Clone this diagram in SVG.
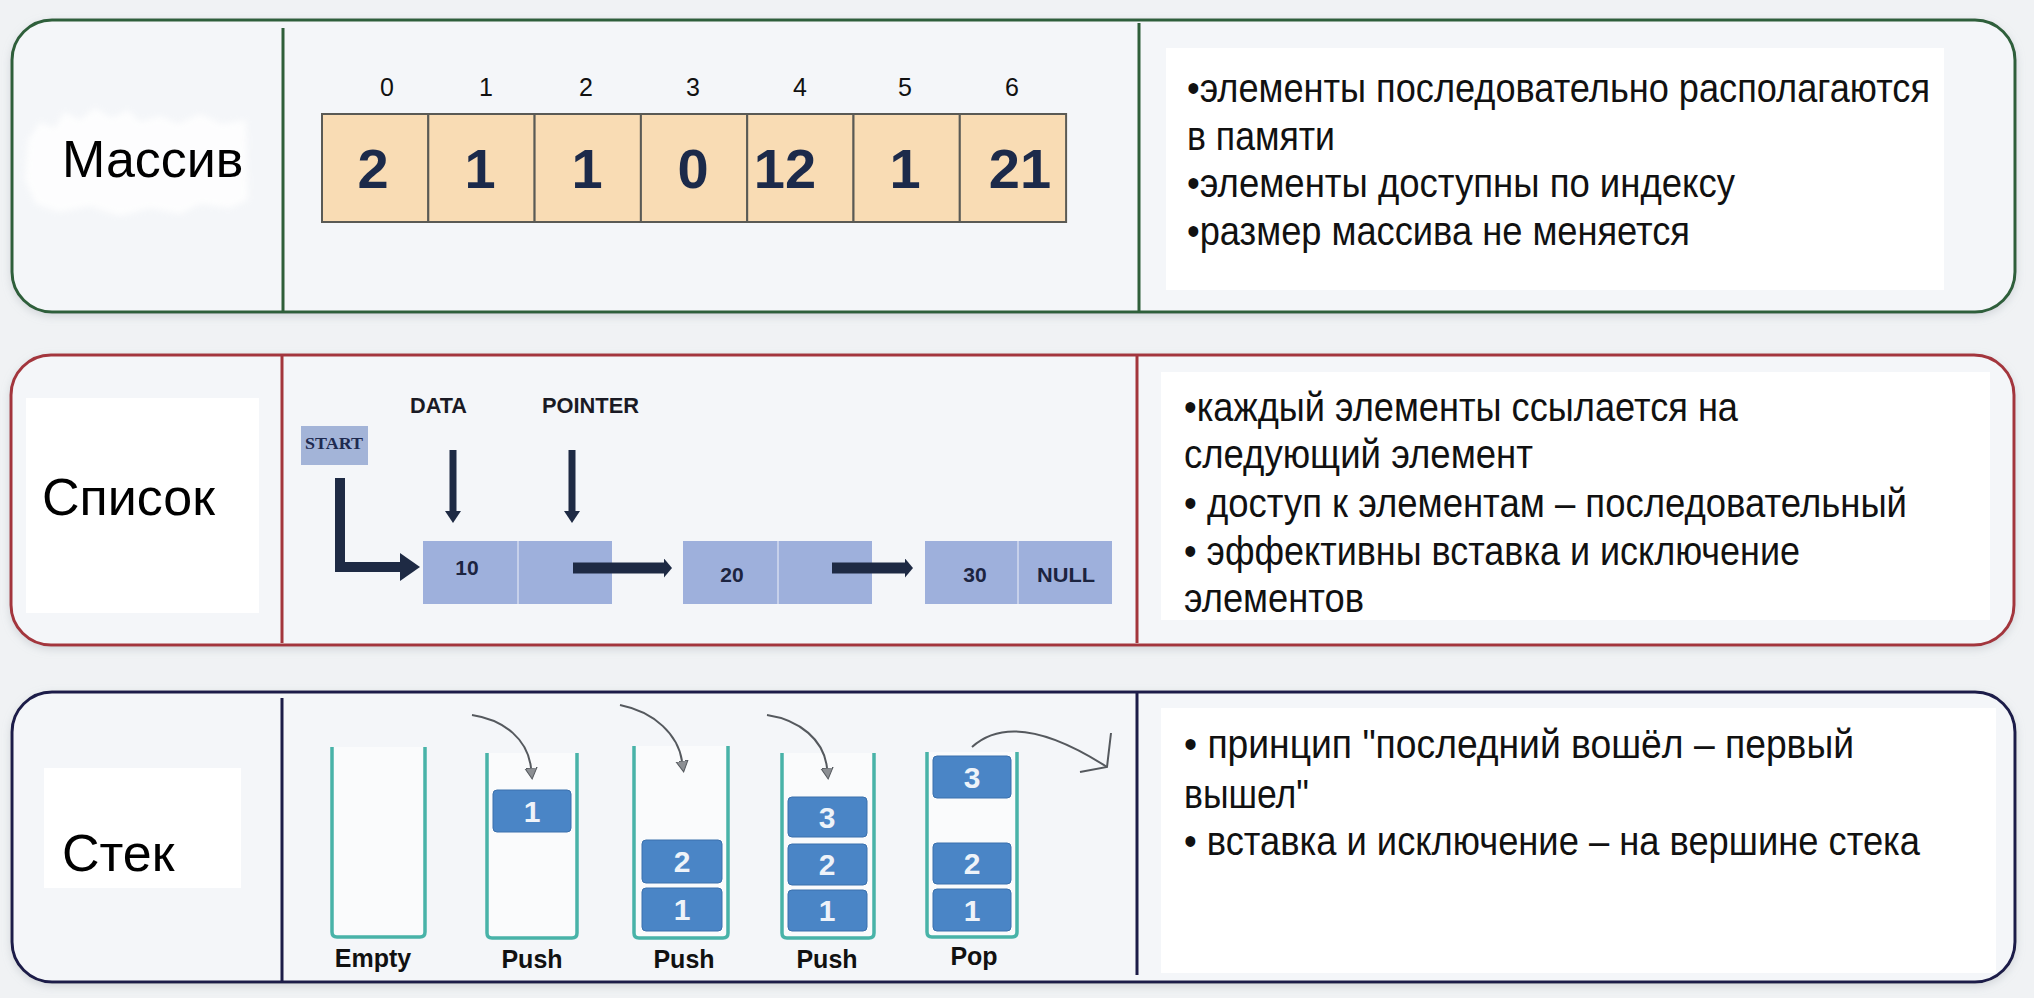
<svg xmlns="http://www.w3.org/2000/svg" width="2034" height="998" viewBox="0 0 2034 998">
<defs>
  <filter id="sh" x="-5%" y="-10%" width="110%" height="125%">
    <feDropShadow dx="0" dy="3" stdDeviation="4" flood-color="#9aa2ab" flood-opacity="0.35"/>
  </filter>
  <filter id="soft" x="-10%" y="-20%" width="120%" height="140%">
    <feGaussianBlur stdDeviation="3"/>
  </filter>
  <marker id="hBig" viewBox="0 0 20 28" refX="0" refY="14" markerWidth="20" markerHeight="28" markerUnits="userSpaceOnUse" orient="auto">
    <path d="M0,0 L20,14 L0,28 Z" fill="#1e2a44"/>
  </marker>
  <marker id="hDown" viewBox="0 0 12 16" refX="0" refY="8" markerWidth="12" markerHeight="16" markerUnits="userSpaceOnUse" orient="auto">
    <path d="M0,0 L12,8 L0,16 Z" fill="#1e2a44"/>
  </marker>
  <marker id="hNode" viewBox="0 0 8 19" refX="0" refY="9.5" markerWidth="8" markerHeight="19" markerUnits="userSpaceOnUse" orient="auto">
    <path d="M0,0 L8,9.5 L0,19 Z" fill="#1e2a44"/>
  </marker>
  <marker id="hPush" viewBox="0 0 12 14" refX="0" refY="7" markerWidth="12" markerHeight="14" markerUnits="userSpaceOnUse" orient="auto">
    <path d="M0,1 L11,7 L0,13 Z" fill="#8c8f93" stroke="#55595e" stroke-width="1"/>
  </marker>
</defs>
<style>
  .panel { stroke-width: 3; fill: #f4f6f9; }
  .div { stroke-width: 3; fill: none; }
  .wbox { fill: #ffffff; }
  .title { font-family: "Liberation Sans", Arial, sans-serif; font-size: 52px; fill: #000; }
  .bul { font-family: "Liberation Sans", Arial, sans-serif; font-size: 40px; fill: #111; }
  .idx { font-family: "Liberation Sans", Arial, sans-serif; font-size: 25px; fill: #111; text-anchor: middle; }
  .cell { fill: #f9dcb4; stroke: #5a5a55; stroke-width: 2; }
  .cnum { font-family: "Liberation Sans", Arial, sans-serif; font-weight: bold; font-size: 56px; fill: #1c2a4a; text-anchor: middle; }
  .lnode { fill: #9eb0dc; }
  .lsep { stroke: #c6d0ea; stroke-width: 2; }
  .ltxt { font-family: "Liberation Sans", Arial, sans-serif; font-weight: bold; font-size: 21px; fill: #1c2440; text-anchor: middle; }
  .llab { font-family: "Liberation Sans", Arial, sans-serif; font-weight: bold; font-size: 22px; fill: #1a1a24; }
  .conn { stroke: #1e2a44; fill: none; }
  .stack { stroke: #48b3a8; stroke-width: 3.5; fill: #fafbfc; }
  .blk { fill: #4a85c6; stroke: #3a70ad; stroke-width: 1; }
  .btxt { font-family: "Liberation Sans", Arial, sans-serif; font-weight: bold; font-size: 30px; fill: #eef3f9; text-anchor: middle; }
  .slab { font-family: "Liberation Sans", Arial, sans-serif; font-weight: bold; font-size: 25px; fill: #111; text-anchor: middle; }
  .parr { stroke: #55595e; stroke-width: 2; fill: none; }
</style>

<rect width="2034" height="998" fill="#f0f2f4"/>

<!-- Panel 1: Массив -->
<g id="panel-array">
  <rect class="panel" x="12" y="20" width="2003" height="292" rx="40" ry="40" stroke="#2f5f3a" filter="url(#sh)"/>
  <line class="div" x1="283" y1="28" x2="283" y2="311" stroke="#2f5f3a"/>
  <line class="div" x1="1139" y1="23" x2="1139" y2="311" stroke="#2f5f3a"/>
  <path d="M28,140 L40,122 L55,128 L64,112 L80,120 L95,108 L112,118 L128,110 L140,122 L160,116 L178,124 L200,114 L222,124 L246,120 L248,200 L230,208 L200,204 L180,214 L150,208 L120,216 L90,206 L60,212 L36,204 L25,180 Z" fill="#ffffff" opacity="0.85" filter="url(#soft)"/>
  <text class="title" x="62" y="177">Массив</text>
</g>

<g id="array">
  <rect class="cell" x="322" y="114" width="106.3" height="108"/>
  <rect class="cell" x="428.3" y="114" width="106.3" height="108"/>
  <rect class="cell" x="534.6" y="114" width="106.3" height="108"/>
  <rect class="cell" x="640.9" y="114" width="106.3" height="108"/>
  <rect class="cell" x="747.2" y="114" width="106.3" height="108"/>
  <rect class="cell" x="853.5" y="114" width="106.3" height="108"/>
  <rect class="cell" x="959.8" y="114" width="106.3" height="108"/>
  <text class="cnum" x="373" y="188">2</text>
  <text class="cnum" x="480" y="188">1</text>
  <text class="cnum" x="587" y="188">1</text>
  <text class="cnum" x="693" y="188">0</text>
  <text class="cnum" x="785" y="188">12</text>
  <text class="cnum" x="905" y="188">1</text>
  <text class="cnum" x="1020" y="188">21</text>
  <text class="idx" x="387" y="96">0</text>
  <text class="idx" x="486" y="96">1</text>
  <text class="idx" x="586" y="96">2</text>
  <text class="idx" x="693" y="96">3</text>
  <text class="idx" x="800" y="96">4</text>
  <text class="idx" x="905" y="96">5</text>
  <text class="idx" x="1012" y="96">6</text>
</g>

<g id="array-notes">
  <rect class="wbox" x="1166" y="48" width="778" height="242"/>
  <text class="bul" x="1187" y="102" textLength="743" lengthAdjust="spacingAndGlyphs">•элементы последовательно располагаются</text>
  <text class="bul" x="1187" y="150" textLength="148" lengthAdjust="spacingAndGlyphs">в памяти</text>
  <text class="bul" x="1187" y="197" textLength="548" lengthAdjust="spacingAndGlyphs">•элементы доступны по индексу</text>
  <text class="bul" x="1187" y="245" textLength="503" lengthAdjust="spacingAndGlyphs">•размер массива не меняется</text>
</g>

<!-- Panel 2: Список -->
<g id="panel-list">
  <rect class="panel" x="11" y="355" width="2003" height="290" rx="40" ry="40" stroke="#a3363c" filter="url(#sh)"/>
  <line class="div" x1="282" y1="356" x2="282" y2="643" stroke="#a3363c"/>
  <line class="div" x1="1137" y1="356" x2="1137" y2="643" stroke="#a3363c"/>
  <rect class="wbox" x="26" y="398" width="233" height="215"/>
  <text class="title" x="42" y="515">Список</text>
</g>

<g id="list-start">
  <rect x="301" y="426" width="67" height="39" fill="#a3b4d8"/>
  <text x="334" y="449" font-family="'Liberation Serif', serif" font-weight="bold" font-size="17" fill="#1e2a50" text-anchor="middle" textLength="58" lengthAdjust="spacingAndGlyphs">START</text>
</g>
<g id="list-labels">
  <text class="llab" x="410" y="413" textLength="57" lengthAdjust="spacingAndGlyphs">DATA</text>
  <text class="llab" x="542" y="413" textLength="97" lengthAdjust="spacingAndGlyphs">POINTER</text>
</g>
<g id="node-10">
  <rect class="lnode" x="423" y="541" width="189" height="63"/>
  <line class="lsep" x1="518" y1="541" x2="518" y2="604"/>
  <text class="ltxt" x="467" y="575">10</text>
</g>
<g id="node-20">
  <rect class="lnode" x="683" y="541" width="189" height="63"/>
  <line class="lsep" x1="778" y1="541" x2="778" y2="604"/>
  <text class="ltxt" x="732" y="582">20</text>
</g>
<g id="node-30">
  <rect class="lnode" x="925" y="541" width="187" height="63"/>
  <line class="lsep" x1="1018" y1="541" x2="1018" y2="604"/>
  <text class="ltxt" x="975" y="582">30</text>
  <text class="ltxt" x="1066" y="582" font-size="19" textLength="58" lengthAdjust="spacingAndGlyphs">NULL</text>
</g>

<g id="list-notes">
  <rect class="wbox" x="1161" y="372" width="829" height="248"/>
  <text class="bul" x="1184" y="421" textLength="554" lengthAdjust="spacingAndGlyphs">•каждый элементы ссылается на</text>
  <text class="bul" x="1184" y="468" textLength="349" lengthAdjust="spacingAndGlyphs">следующий элемент</text>
  <text class="bul" x="1184" y="517" textLength="723" lengthAdjust="spacingAndGlyphs">• доступ к элементам – последовательный</text>
  <text class="bul" x="1184" y="565" textLength="616" lengthAdjust="spacingAndGlyphs">• эффективны вставка и исключение</text>
  <text class="bul" x="1184" y="612" textLength="180" lengthAdjust="spacingAndGlyphs">элементов</text>
</g>

<!-- Panel 3: Стек -->
<g id="panel-stack">
  <rect class="panel" x="12" y="692" width="2003" height="290" rx="40" ry="40" stroke="#1c1c48" filter="url(#sh)"/>
  <line class="div" x1="282" y1="698" x2="282" y2="981" stroke="#1c1c48"/>
  <line class="div" x1="1137" y1="693" x2="1137" y2="975" stroke="#1c1c48"/>
  <rect class="wbox" x="44" y="768" width="197" height="120"/>
  <text class="title" x="62" y="871">Стек</text>
</g>

<g id="stack-empty">
  <path class="stack" d="M332,747 V932 Q332,937 337,937 H420 Q425,937 425,932 V747"/>
  <text class="slab" x="373" y="967">Empty</text>
</g>
<g id="stack-push1">
  <path class="stack" d="M487,753 V933 Q487,938 492,938 H572 Q577,938 577,933 V753"/>
  <rect class="blk" x="493" y="790" width="78" height="42" rx="4"/>
  <text class="btxt" x="532" y="822">1</text>
  <text class="slab" x="532" y="968">Push</text>
</g>
<g id="stack-push2">
  <path class="stack" d="M634,746 V933 Q634,938 639,938 H723 Q728,938 728,933 V746"/>
  <rect class="blk" x="642" y="840" width="80" height="43" rx="4"/>
  <text class="btxt" x="682" y="872">2</text>
  <rect class="blk" x="642" y="888" width="80" height="43" rx="4"/>
  <text class="btxt" x="682" y="920">1</text>
  <text class="slab" x="684" y="968">Push</text>
</g>
<g id="stack-push3">
  <path class="stack" d="M782,753 V933 Q782,938 787,938 H869 Q874,938 874,933 V753"/>
  <rect class="blk" x="788" y="797" width="79" height="40" rx="4"/>
  <text class="btxt" x="827" y="828">3</text>
  <rect class="blk" x="788" y="844" width="79" height="41" rx="4"/>
  <text class="btxt" x="827" y="875">2</text>
  <rect class="blk" x="788" y="890" width="79" height="41" rx="4"/>
  <text class="btxt" x="827" y="921">1</text>
  <text class="slab" x="827" y="968">Push</text>
</g>
<g id="stack-pop">
  <path class="stack" d="M927,752 V932 Q927,937 932,937 H1012 Q1017,937 1017,932 V752"/>
  <rect class="blk" x="933" y="756" width="78" height="42" rx="4"/>
  <text class="btxt" x="972" y="788">3</text>
  <rect class="blk" x="933" y="843" width="78" height="41" rx="4"/>
  <text class="btxt" x="972" y="874">2</text>
  <rect class="blk" x="933" y="889" width="78" height="42" rx="4"/>
  <text class="btxt" x="972" y="921">1</text>
  <text class="slab" x="974" y="965">Pop</text>
</g>

<g id="stack-notes">
  <rect class="wbox" x="1161" y="708" width="835" height="265"/>
  <text class="bul" x="1184" y="758" textLength="670" lengthAdjust="spacingAndGlyphs">• принцип "последний вошёл – первый</text>
  <text class="bul" x="1184" y="808" textLength="125" lengthAdjust="spacingAndGlyphs">вышел"</text>
  <text class="bul" x="1184" y="855" textLength="736" lengthAdjust="spacingAndGlyphs">• вставка и исключение – на вершине стека</text>
</g>

<!-- Connectors -->
<g id="connectors">
  <path class="conn" d="M340,478 V567 H400" stroke-width="10" stroke-linejoin="miter" marker-end="url(#hBig)"/>
  <line class="conn" x1="453" y1="450" x2="453" y2="511" stroke-width="7" marker-end="url(#hDown)"/>
  <line class="conn" x1="572" y1="450" x2="572" y2="511" stroke-width="7" marker-end="url(#hDown)"/>
  <line class="conn" x1="573" y1="568" x2="664" y2="568" stroke-width="11" marker-end="url(#hNode)"/>
  <line class="conn" x1="832" y1="568" x2="905" y2="568" stroke-width="11" marker-end="url(#hNode)"/>
  <path class="parr" d="M472,715 C505,720 528,740 531,768" marker-end="url(#hPush)"/>
  <path class="parr" d="M620,705 C655,712 678,735 682,761" marker-end="url(#hPush)"/>
  <path class="parr" d="M767,715 C800,720 824,740 827,768" marker-end="url(#hPush)"/>
  <path class="parr" d="M972,747 Q1015,708 1107,767"/>
  <path class="parr" d="M1111,733 L1107,767 L1080,772"/>
</g>
</svg>
